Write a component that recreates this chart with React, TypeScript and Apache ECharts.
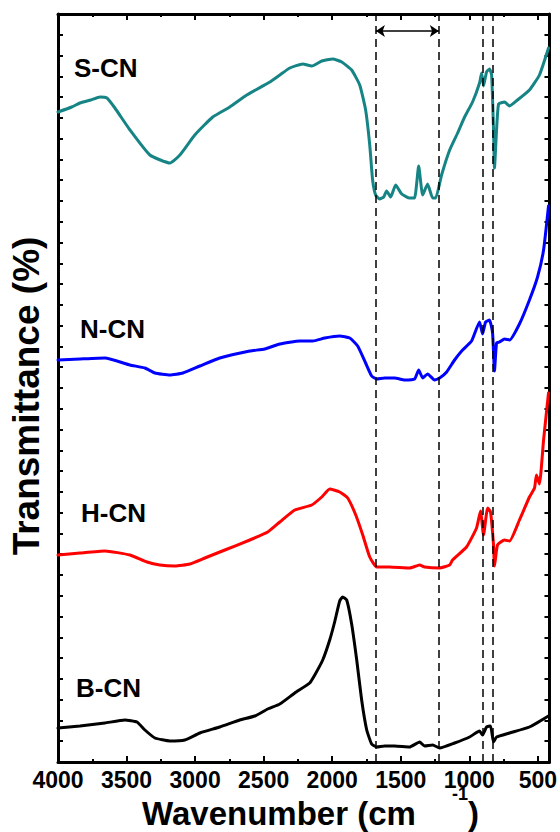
import React, { useEffect, useRef } from 'react';
import * as echarts from 'echarts';

// Wavenumber (cm-1) / transmittance (arbitrary offset units)
const X_MIN = 415;
const X_MAX = 4000;
const X_TICK_STEP = 500;
const Y_MAX = 748;

const S_CN: [number, number][] = [
  [4000, 650], [3900, 655], [3840, 659], [3760, 662], [3694, 665], [3643, 664], [3585, 654],
  [3475, 632], [3330, 607], [3184, 599], [3111, 607], [3002, 627], [2871, 645], [2747, 655],
  [2623, 667], [2455, 680], [2382, 687], [2309, 694], [2215, 698], [2149, 696], [2076, 701],
  [1996, 703], [1930, 700], [1858, 692], [1799, 677], [1756, 652], [1726, 617], [1705, 582],
  [1683, 567], [1654, 563], [1624, 565], [1603, 571], [1573, 565], [1537, 577], [1493, 568],
  [1435, 564], [1399, 564], [1369, 596], [1340, 567], [1304, 578], [1267, 564], [1245, 564],
  [1202, 587], [1143, 612], [1085, 629], [1034, 645], [976, 660], [925, 679], [910, 689],
  [896, 676], [874, 690], [852, 693], [837, 687], [823, 632], [816, 594], [801, 632],
  [786, 658], [743, 660], [706, 656], [648, 662], [561, 672], [488, 687], [422, 714],
];

const N_CN: [number, number][] = [
  [4000, 402], [3840, 403], [3658, 404], [3475, 397], [3366, 394], [3293, 389], [3184, 387],
  [3089, 389], [2965, 396], [2820, 404], [2601, 411], [2492, 413], [2382, 418], [2237, 421],
  [2142, 421], [2054, 424], [1945, 426], [1872, 424], [1814, 416], [1756, 399], [1712, 386],
  [1675, 383], [1617, 384], [1544, 384], [1471, 382], [1399, 383], [1369, 392], [1340, 384],
  [1304, 388], [1253, 382], [1216, 384], [1165, 390], [1107, 402], [1049, 412], [983, 421],
  [925, 440], [903, 428], [881, 440], [852, 442], [830, 429], [816, 391], [801, 419],
  [779, 420], [743, 423], [706, 422], [634, 438], [561, 462], [502, 485], [458, 512], [422, 556],
];

const H_CN: [number, number][] = [
  [4000, 207], [3840, 209], [3658, 211], [3475, 207], [3351, 200], [3257, 197], [3147, 196],
  [3038, 198], [2929, 204], [2783, 212], [2601, 222], [2470, 230], [2382, 240], [2273, 252],
  [2149, 257], [2076, 265], [2018, 273], [1945, 270], [1887, 264], [1828, 247], [1777, 227],
  [1726, 205], [1675, 195], [1581, 195], [1435, 194], [1362, 197], [1326, 195], [1216, 194],
  [1143, 197], [1122, 202], [1020, 215], [947, 234], [918, 251], [896, 227], [866, 254],
  [845, 250], [823, 217], [816, 196], [794, 217], [743, 222], [706, 221], [634, 242],
  [561, 265], [524, 274], [510, 287], [488, 278], [458, 322], [422, 369],
];

const B_CN: [number, number][] = [
  [4000, 34], [3840, 36], [3658, 39], [3512, 42], [3424, 40], [3366, 32], [3293, 24],
  [3184, 21], [3075, 22], [2965, 29], [2820, 35], [2674, 42], [2564, 46], [2470, 53],
  [2382, 58], [2273, 69], [2164, 79], [2127, 87], [2069, 102], [2018, 122], [1982, 140],
  [1945, 161], [1923, 165], [1894, 162], [1858, 138], [1821, 102], [1785, 62], [1748, 32],
  [1712, 18], [1675, 15], [1617, 16], [1544, 16], [1435, 15], [1362, 20], [1326, 16],
  [1267, 17], [1216, 14], [1107, 19], [998, 25], [925, 31], [903, 27], [874, 35],
  [845, 36], [823, 20], [801, 25], [706, 29], [561, 35], [422, 46],
];

const SERIES_NAMES = ['S-CN', 'N-CN', 'H-CN', 'B-CN'];
const SERIES_COLORS = ['#168484', '#0000ff', '#ff0000', '#000000'];
const SERIES_DATA = [S_CN, N_CN, H_CN, B_CN];

const DASHED_LINES = [1681, 1222, 901, 828];
const ARROW_RANGE = [1681, 1222];
const ARROW_LEVEL = 731;

const FONT = '"Liberation Sans", Arial, Helvetica, sans-serif';

export default function App() {
  const ref = useRef<HTMLDivElement>(null);

  useEffect(() => {
    if (!ref.current) return;
    const chart = echarts.init(ref.current, undefined, { renderer: 'svg' });

    const xAxisBase = {
      type: 'value',
      min: -X_MAX,
      max: -X_MIN,
      interval: X_TICK_STEP,
      axisLine: { show: true, onZero: false, lineStyle: { color: '#000', width: 3 } },
      axisTick: { show: true, inside: true, length: 6, lineStyle: { color: '#000', width: 2 } },
      minorTick: { show: true, splitNumber: 2, length: 3, lineStyle: { color: '#000', width: 2 } },
      splitLine: { show: false },
      minorSplitLine: { show: false },
    };
    const yAxisBase = {
      type: 'value',
      min: 0,
      max: Y_MAX,
      interval: Y_MAX / 36,
      axisLine: { show: true, onZero: false, lineStyle: { color: '#000', width: 3 } },
      axisTick: { show: true, inside: true, length: 5, lineStyle: { color: '#000', width: 2 } },
      axisLabel: { show: false },
      splitLine: { show: false },
    };

    const series: any[] = SERIES_DATA.map((d, i) => ({
      name: SERIES_NAMES[i],
      type: 'line',
      data: d.map(([w, t]) => [-w, t]),
      showSymbol: false,
      symbol: 'none',
      smooth: 0.15,
      lineStyle: { color: SERIES_COLORS[i], width: 3, join: 'round', cap: 'round' },
      z: 3,
    }));

    series.push({
      name: 'guides',
      type: 'line',
      data: [],
      silent: true,
      markLine: {
        silent: true,
        animation: false,
        symbol: 'none',
        label: { show: false },
        lineStyle: { color: '#000', width: 1.5, type: [8, 5] },
        emphasis: { disabled: true },
        data: [
          ...DASHED_LINES.map((w) => ({ xAxis: -w })),
          [
            { coord: [-ARROW_RANGE[0], ARROW_LEVEL], symbol: 'arrow', symbolSize: 9, lineStyle: { type: 'solid', width: 1.5 } },
            { coord: [-ARROW_RANGE[1], ARROW_LEVEL], symbol: 'arrow', symbolSize: 9 },
          ],
        ],
      },
    });

    const labelPos: [number, number][] = [[74, 68], [80, 329], [81, 513], [76, 688]];

    chart.setOption({
      animation: false,
      backgroundColor: '#fff',
      grid: { left: 58, right: 10, top: 14, bottom: 70, containLabel: false },
      xAxis: [
        {
          ...xAxisBase,
          position: 'bottom',
          axisLabel: {
            show: true,
            formatter: (v: number) => String(-v),
            showMaxLabel: false,
            fontSize: 23,
            fontWeight: 'bold',
            fontFamily: FONT,
            color: '#000',
            margin: 6,
          },
        },
        { ...xAxisBase, position: 'top', axisLabel: { show: false } },
      ],
      yAxis: [
        { ...yAxisBase, position: 'left' },
        { ...yAxisBase, position: 'right' },
      ],
      series,
      graphic: [
        {
          type: 'text',
          x: 26,
          y: 396,
          rotation: Math.PI / 2,
          style: {
            text: 'Transmittance (%)',
            font: `bold 37px ${FONT}`,
            fill: '#000',
            align: 'center',
            verticalAlign: 'middle',
          },
        },
        {
          type: 'text',
          x: 142,
          y: 813,
          style: { text: 'Wavenumber (cm', font: `bold 33px ${FONT}`, fill: '#000', align: 'left', verticalAlign: 'middle' },
        },
        {
          type: 'text',
          x: 452,
          y: 794,
          style: { text: '-1', font: `bold 18px ${FONT}`, fill: '#000', align: 'left', verticalAlign: 'middle' },
        },
        {
          type: 'text',
          x: 468,
          y: 813,
          style: { text: ')', font: `bold 33px ${FONT}`, fill: '#000', align: 'left', verticalAlign: 'middle' },
        },
        ...SERIES_NAMES.map((n, i) => ({
          type: 'text',
          x: labelPos[i][0],
          y: labelPos[i][1],
          style: { text: n, font: `bold 26px ${FONT}`, fill: '#000', align: 'left', verticalAlign: 'middle' },
        })),
      ],
    });

    return () => chart.dispose();
  }, []);

  return (
    <div
      ref={ref}
      style={{ position: 'absolute', left: 0, top: 0, width: 560, height: 832, background: '#fff' }}
    />
  );
}
